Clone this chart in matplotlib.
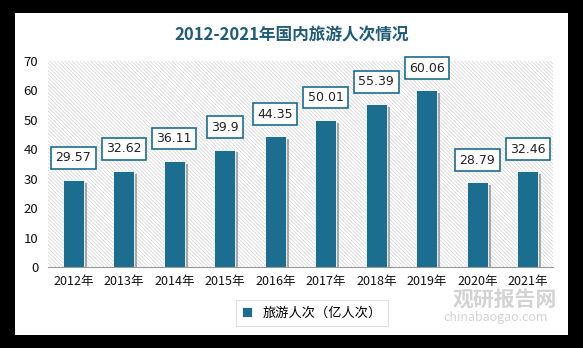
import matplotlib.pyplot as plt
import matplotlib.patheffects as pe
from matplotlib.patches import Rectangle

plt.rcParams['font.family'] = ['Noto Sans CJK SC', 'DejaVu Sans']

years = ['2012年', '2013年', '2014年', '2015年', '2016年',
         '2017年', '2018年', '2019年', '2020年', '2021年']
trips = [29.57, 32.62, 36.11, 39.9, 44.35, 50.01, 55.39, 60.06, 28.79, 32.46]
labels = ['29.57', '32.62', '36.11', '39.9', '44.35',
          '50.01', '55.39', '60.06', '28.79', '32.46']

bar_color = '#1B6E8F'

fig = plt.figure(figsize=(5.83, 3.48), dpi=100, facecolor='black')
# white card inside black frame
fig.patches.append(Rectangle((15 / 583, 13 / 348), 553 / 583, 322 / 348,
                             transform=fig.transFigure, facecolor='white',
                             edgecolor='none', zorder=-10))

ax = fig.add_axes([48 / 583, 1 - 267 / 348, 505 / 583, 206 / 348])
ax.set_facecolor('none')

plt.rcParams['hatch.linewidth'] = 0.5
ax.add_patch(Rectangle((0, 0), 1, 1, transform=ax.transAxes,
                       facecolor='white', edgecolor='#d4d4d4',
                       hatch='\\\\\\\\\\\\\\\\\\', lw=0, zorder=0))

x = range(len(years))
bars = ax.bar(x, trips, width=0.42, color=bar_color, edgecolor='white',
              linewidth=0.6, zorder=2)
for b in bars:
    b.set_path_effects([pe.SimplePatchShadow(offset=(2, -2), shadow_rgbFace='#777777', alpha=0.6),
                        pe.Normal()])

for i, v in enumerate(trips):
    ax.annotate(labels[i], (i, v), xytext=(0, 16), textcoords='offset points',
                ha='center', va='center', fontsize=9, color='#222222',
                family=['DejaVu Sans'], zorder=4,
                bbox=dict(boxstyle='square,pad=0.35', facecolor='white',
                          edgecolor=bar_color, linewidth=1.2))

ax.set_xlim(-0.5, len(years) - 0.5)
ax.set_ylim(0, 70)
ax.set_yticks(range(0, 71, 10))
ax.set_xticks(list(x))
ax.set_xticklabels(years, fontsize=9)
ax.tick_params(axis='both', length=0, labelsize=9, colors='#111111')
ax.tick_params(axis='x', pad=6)
ax.tick_params(axis='y', pad=7, labelsize=9.5)
for s in ['top', 'right', 'left']:
    ax.spines[s].set_visible(False)
ax.spines['bottom'].set_color('#999999')
ax.spines['bottom'].set_zorder(3)

fig.text(0.5, 1 - 35 / 348, '2012-2021年国内旅游人次情况', ha='center', va='center',
         fontsize=12, color='#1F5C7A', fontweight='bold')

# legend
leg = fig.legend([bars[0]], ['旅游人次（亿人次）'], loc='center',
                 bbox_to_anchor=(312 / 583, 1 - 313 / 348), fontsize=9.5,
                 frameon=True, fancybox=False, edgecolor='#d9d9d9',
                 handlelength=0.7, handleheight=0.7, borderpad=0.5)
leg.get_frame().set_linewidth(0.8)
leg.legend_handles[0].set_path_effects([])

# watermark
fig.text(505 / 583, 1 - 299 / 348, '观研报告网', ha='center', va='center',
         fontsize=15, color='#c8c8c8', fontweight='bold', alpha=0.8)
fig.text(496 / 583, 1 - 318 / 348, 'chinabaogao.com', ha='center', va='center',
         fontsize=9, color='#c8c8c8', alpha=0.8)

fig.savefig('out.png', dpi=100, facecolor='black')
